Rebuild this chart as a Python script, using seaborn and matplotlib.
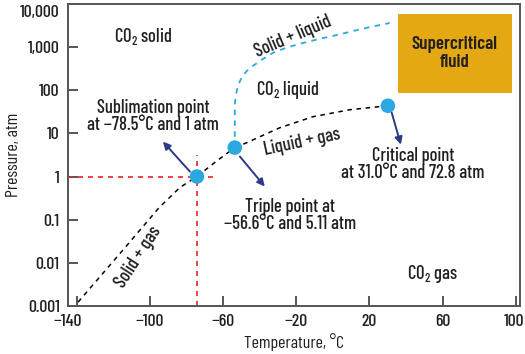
import matplotlib
matplotlib.use("Agg")
import matplotlib.pyplot as plt
import matplotlib.transforms as mtransforms
from matplotlib import font_manager as fm
from matplotlib.textpath import TextPath
import seaborn as sns

# ---- data ----
sub_T = [-139.3, -115.3, -95.0, -83.6, -74.3, -63.9, -53.6]
sub_P = [0.00123, 0.0186, 0.19, 0.557, 1.0, 2.22, 4.68]

lg_T = [-53.6, -47.0, -29.0, -10.9, 9.3, 30.1]
lg_P = [4.68, 6.1, 13.5, 24.3, 35.3, 43.6]

melt_T = [-53.6, -53.6, -53.6, -53.0, -51.9, -49.7, -47.0, -43.7, -38.5, -32.8, -25.0, -16.4, -7.0, 2.2, 11.0, 20.2, 31.1]
melt_P = [4.68, 20.7, 46.0, 78.0, 126, 204, 280, 365, 520, 732, 980, 1240, 1560, 1900, 2350, 2900, 3600]

pt_T = [-74.3, -53.6, 30.1]
pt_P = [1.0, 4.68, 43.6]

x_ticks = [-140, -100, -60, -20, 20, 60, 100]
x_labels = ["\u2212140", "\u2212100", "\u221260", "\u221220", "20", "60", "100"]
y_ticks = [0.001, 0.01, 0.1, 1, 10, 100, 1000, 10000]
y_labels = ["0.001", "0.01", "0.1", "1", "10", "100", "1,000", "10,000"]

sns.set_theme(style="ticks")

# ---- pick the condensed face that best fits the reference's lettering ----
avail = set(f.name for f in fm.fontManager.ttflist)
cands = ["Roboto Condensed", "Barlow Condensed", "Barlow Semi Condensed", "Asap Condensed",
         "Archivo Narrow", "Fira Sans Condensed", "Fira Sans Extra Condensed", "IBM Plex Sans Condensed",
         "Encode Sans Condensed", "Encode Sans Semi Condensed", "PT Sans Narrow", "Open Sans Condensed",
         "Sofia Sans Condensed", "Sofia Sans Semi Condensed", "Saira Condensed", "Saira Semi Condensed",
         "Ubuntu Condensed", "Cabin Condensed", "Pragati Narrow", "Roboto Flex", "Noto Sans Display",
         "Source Sans 3", "Source Sans Pro", "Encode Sans Compressed", "Libre Franklin"]
targets = [("Critical point", 77.0), ("Sublimation point", 103.0), ("at 31.0\u00b0C and 72.8 atm", 130.0)]
CAP_PX = 13.0
best, best_err, best_cap = None, 1e9, 0.7
for c in cands:
    if c not in avail:
        continue
    try:
        fp = fm.FontProperties(family=c, weight=500)
        cap = TextPath((0, 0), "H", size=1, prop=fp).get_extents().height
        size_px = CAP_PX / cap
        err = 0.0
        for s, w in targets:
            wid = TextPath((0, 0), s, size=1, prop=fp).get_extents().width * size_px
            err += abs(wid - w) / w
        if err < best_err:
            best, best_err, best_cap = c, err, cap
    except Exception:
        pass
main = [best] if best else []
plt.rcParams["font.family"] = main + ["DejaVu Sans"]
plt.rcParams["font.weight"] = 500
plt.rcParams["mathtext.fontset"] = "custom"
if best:
    plt.rcParams["mathtext.rm"] = best
fs = CAP_PX / best_cap * 0.72          # points at 100 dpi
fs_tick = 12.5 / best_cap * 0.72
fs_big = 13.2 / best_cap * 0.72

TXT = "#231f20"
BLUE = "#29a9e0"
NAVY = "#2b3a86"
RED = "#e8231f"

fig = plt.figure(figsize=(5.25, 3.54), dpi=100)
ax = fig.add_axes([0.1295, 0.1356, 0.8605, 0.8534])

dash = (0, (3, 3))
sns.lineplot(x=sub_T, y=sub_P, ax=ax, color="black", lw=1.1, linestyle=dash, sort=False, estimator=None)
sns.lineplot(x=lg_T, y=lg_P, ax=ax, color="black", lw=1.1, linestyle=dash, sort=False, estimator=None)
sns.lineplot(x=melt_T, y=melt_P, ax=ax, color=BLUE, lw=1.3, linestyle=dash, sort=False, estimator=None)

# red guide lines at the sublimation point
ax.plot([-145, -64.5], [pt_P[0], pt_P[0]], color=RED, lw=1.2, linestyle=dash, zorder=2)
ax.plot([pt_T[0], pt_T[0]], [0.001, 3.2], color=RED, lw=1.2, linestyle=dash, zorder=2)

sns.scatterplot(x=pt_T, y=pt_P, ax=ax, color=BLUE, s=110, edgecolor="none", zorder=5)

ax.set_yscale("log")
ax.set_xlim(-144.8, 102.2)
ax.set_ylim(0.001, 10000)
ax.set_xticks(x_ticks)
ax.set_xticklabels(x_labels)
ax.set_yticks(y_ticks)
ax.set_yticklabels(y_labels)
ax.minorticks_off()
ax.tick_params(direction="in", length=7, width=1.2, colors="#3a3a3a", labelcolor=TXT, labelsize=fs_tick, pad=6)
for s in ax.spines.values():
    s.set_color("#555555")
    s.set_linewidth(1.4)
    s.set_visible(True)

def nudge(lab, dx, dy):
    lab.set_transform(lab.get_transform() + mtransforms.ScaledTranslation(dx / 100, dy / 100, fig.dpi_scale_trans))

nudge(ax.get_xticklabels()[0], -9, 0)
nudge(ax.get_xticklabels()[-1], -2, 0)
nudge(ax.get_yticklabels()[-1], 0, -7)

ax.set_xlabel("Temperature, \u00b0C", fontsize=fs_tick, color=TXT, labelpad=3)
ax.set_ylabel("Pressure, atm", fontsize=fs_tick, color=TXT)
ax.yaxis.set_label_coords(-0.104, 0.5)

# supercritical box
ax.add_patch(plt.Rectangle((0.730, 0.705), 0.252, 0.262, transform=ax.transAxes,
                           facecolor="#e3a812", edgecolor="none", zorder=3))
ax.text(0.856, 0.836, "Supercritical\nfluid", transform=ax.transAxes, ha="center", va="center",
        fontsize=fs_big, fontweight="semibold", color=TXT, linespacing=1.1, zorder=4)

co2 = r"CO$_\mathrm{2}$"
ax.text(-103.8, 1700, co2 + " solid", ha="center", va="center", fontsize=fs, color=TXT)
ax.text(-21.9, 1700, "Solid + liquid", ha="center", va="center", fontsize=fs, color=TXT, rotation=23)
ax.text(-24.6, 102, co2 + " liquid", ha="center", va="center", fontsize=fs, color=TXT)
ax.text(-16.9, 6.4, "Liquid + gas", ha="center", va="center", fontsize=fs, color=TXT, rotation=12)
ax.text(-106.6, 0.0135, "Solid + gas", ha="center", va="center", fontsize=fs, color=TXT, rotation=57)
ax.text(54.6, 0.0055, co2 + " gas", ha="center", va="center", fontsize=fs, color=TXT)

ax.text(-98.4, 24.3, "Sublimation point\nat \u221278.5\u00b0C and 1 atm", ha="center", va="center",
        fontsize=fs, color=TXT, linespacing=0.95)
ax.text(-23.5, 0.126, "Triple point at\n\u221256.6\u00b0C and 5.11 atm", ha="center", va="center",
        fontsize=fs, color=TXT, linespacing=0.95)
ax.text(43.7, 1.89, "Critical point\nat 31.0\u00b0C and 72.8 atm", ha="center", va="center",
        fontsize=fs, color=TXT, linespacing=0.95)

ap = dict(arrowstyle="-|>", color=NAVY, lw=1.4, mutation_scale=11, shrinkA=0, shrinkB=0)
ax.annotate("", xy=(-92.9, 6.43), xytext=(-78.1, 1.30), arrowprops=ap, zorder=6)
ax.annotate("", xy=(-37.2, 0.587), xytext=(-50.8, 2.9), arrowprops=ap, zorder=6)
ax.annotate("", xy=(37.2, 5.48), xytext=(32.2, 30.1), arrowprops=ap, zorder=6)

fig.savefig("out.png", dpi=100)
